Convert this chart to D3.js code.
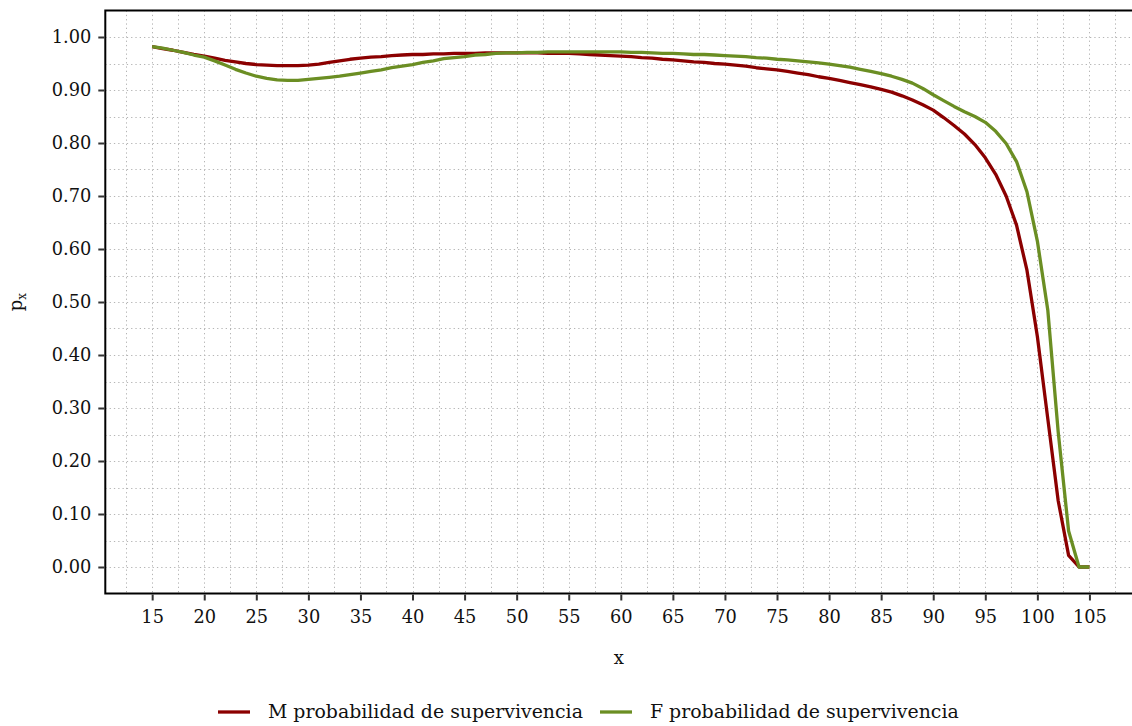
<!DOCTYPE html>
<html>
<head>
<meta charset="utf-8">
<script src="https://cdn.jsdelivr.net/npm/d3@7"></script>
<style>
  html, body { margin: 0; padding: 0; background: #fff; }
  svg { display: block; font-family: "DejaVu Serif", serif; }
</style>
</head>
<body>
<svg id="chart" width="1132" height="726"></svg>
<script>
// Ages 15..105
const ages = d3.range(15, 106);

// Probability of survival, men
const maleP = [
  0.982, 0.978, 0.975, 0.971, 0.967, 0.964, 0.960, 0.956, 0.953, 0.950,
  0.948, 0.947, 0.946, 0.946, 0.946, 0.947, 0.949, 0.952, 0.955, 0.958,
  0.960, 0.962, 0.963, 0.965, 0.966, 0.967, 0.967, 0.968, 0.968, 0.969,
  0.969, 0.969, 0.970, 0.970, 0.970, 0.970, 0.970, 0.970, 0.969, 0.969,
  0.969, 0.968, 0.967, 0.966, 0.965, 0.964, 0.963, 0.961, 0.960, 0.958,
  0.957, 0.955, 0.953, 0.952, 0.950, 0.949, 0.947, 0.945, 0.942, 0.940,
  0.938, 0.935, 0.932, 0.929, 0.925, 0.922, 0.918, 0.914, 0.910, 0.906,
  0.901, 0.896, 0.889, 0.881, 0.872, 0.862, 0.848, 0.833, 0.817, 0.797,
  0.772, 0.741, 0.700, 0.645, 0.560, 0.435, 0.280, 0.125, 0.022, 0.000,
  0.000
];

// Probability of survival, women
const femaleP = [
  0.982, 0.979, 0.975, 0.971, 0.966, 0.962, 0.955, 0.947, 0.939, 0.932,
  0.926, 0.922, 0.919, 0.918, 0.918, 0.920, 0.922, 0.924, 0.926, 0.929,
  0.932, 0.935, 0.938, 0.942, 0.945, 0.948, 0.952, 0.955, 0.959, 0.961,
  0.963, 0.966, 0.967, 0.969, 0.970, 0.970, 0.971, 0.971, 0.972, 0.972,
  0.972, 0.972, 0.972, 0.972, 0.972, 0.972, 0.971, 0.971, 0.970, 0.969,
  0.969, 0.968, 0.967, 0.967, 0.966, 0.965, 0.964, 0.963, 0.961, 0.960,
  0.958, 0.957, 0.955, 0.953, 0.951, 0.949, 0.946, 0.943, 0.939, 0.935,
  0.931, 0.926, 0.920, 0.913, 0.903, 0.891, 0.880, 0.869, 0.859, 0.850,
  0.839, 0.822, 0.799, 0.765, 0.708, 0.615, 0.485, 0.255, 0.068, 0.000,
  0.000
];

const seriesNames = ["M probabilidad de supervivencia", "F probabilidad de supervivencia"];
const seriesColors = ["#8b0000", "#6b8e23"];
const xTicks = d3.range(15, 106, 5);
const yTicks = d3.range(0, 1.0001, 0.1);

const svg = d3.select("#chart");

// Panel geometry
const panelLeft = 105.3, panelRight = 1136.3, panelTop = 10.5, panelBottom = 593.5;

const x = d3.scaleLinear().domain([10.5, 109.5]).range([panelLeft, panelRight]);
const y = d3.scaleLinear().domain([-0.05, 1.05]).range([panelBottom, panelTop]);

// Grid: major and minor, dotted
const gridX = d3.range(10, 110.01, 2.5).filter(v => v > 10.5 && v < 109.5);
const gridY = d3.range(-0.05, 1.0501, 0.05).filter(v => v > -0.049 && v < 1.049);

const grid = svg.append("g")
  .attr("stroke", "#b5b5b5")
  .attr("stroke-width", 1)
  .attr("stroke-dasharray", "1.3,3");

grid.selectAll("line.gx").data(gridX).join("line")
  .attr("class", "gx")
  .attr("x1", d => Math.round(x(d)) + 0.5).attr("x2", d => Math.round(x(d)) + 0.5)
  .attr("y1", panelTop).attr("y2", panelBottom);

grid.selectAll("line.gy").data(gridY).join("line")
  .attr("class", "gy")
  .attr("y1", d => Math.round(y(d)) + 0.5).attr("y2", d => Math.round(y(d)) + 0.5)
  .attr("x1", panelLeft).attr("x2", panelRight);

// Curves
const series = [maleP, femaleP].map((vals, i) => ({
  name: seriesNames[i],
  color: seriesColors[i],
  values: ages.map((a, j) => ({ age: a, p: vals[j] }))
}));

const line = d3.line()
  .x(d => x(d.age))
  .y(d => y(d.p));

svg.append("g").selectAll("path").data(series).join("path")
  .attr("fill", "none")
  .attr("stroke", d => d.color)
  .attr("stroke-width", 3.3)
  .attr("stroke-linejoin", "round")
  .attr("d", d => line(d.values));

// Panel border
svg.append("rect")
  .attr("x", panelLeft).attr("y", panelTop)
  .attr("width", panelRight - panelLeft).attr("height", panelBottom - panelTop)
  .attr("fill", "none").attr("stroke", "#000").attr("stroke-width", 2);

// Axes
const xAxis = d3.axisBottom(x).tickValues(xTicks).tickSize(6).tickPadding(10).tickFormat(d3.format("d"));
const yAxis = d3.axisLeft(y).tickValues(yTicks).tickSize(6).tickPadding(7).tickFormat(d3.format(".2f"));

const gx = svg.append("g").attr("transform", `translate(0,${panelBottom + 1})`).call(xAxis);
const gy = svg.append("g").attr("transform", `translate(${panelLeft - 1},0)`).call(yAxis);

[gx, gy].forEach(g => {
  g.select(".domain").remove();
  g.selectAll(".tick line").attr("stroke", "#333").attr("stroke-width", 2);
  g.selectAll(".tick text")
    .attr("fill", "#111")
    .style("font-family", "'DejaVu Serif', serif")
    .style("font-size", "17.8px");
});

// Axis titles
svg.append("text")
  .attr("x", (panelLeft + panelRight) / 2 - 2)
  .attr("y", 664)
  .attr("text-anchor", "middle")
  .attr("fill", "#111")
  .style("font-size", "18px")
  .text("x");

const yTitle = svg.append("text")
  .attr("transform", `translate(22,${(panelTop + panelBottom) / 2}) rotate(-90)`)
  .attr("text-anchor", "middle")
  .attr("fill", "#111")
  .style("font-size", "18px");
yTitle.append("tspan").text("p");
yTitle.append("tspan").attr("dy", 4).style("font-size", "12px").text("x");

// Legend
const legendItems = [
  { swatch: 218, text: 268 },
  { swatch: 600, text: 650 }
];
const legend = svg.append("g");
series.forEach((s, i) => {
  legend.append("line")
    .attr("x1", legendItems[i].swatch).attr("x2", legendItems[i].swatch + 32)
    .attr("y1", 712).attr("y2", 712)
    .attr("stroke", s.color).attr("stroke-width", 3.3);
  legend.append("text")
    .attr("x", legendItems[i].text).attr("y", 718)
    .attr("fill", "#111")
    .style("font-size", "18.9px")
    .text(s.name);
});
</script>
</body>
</html>
